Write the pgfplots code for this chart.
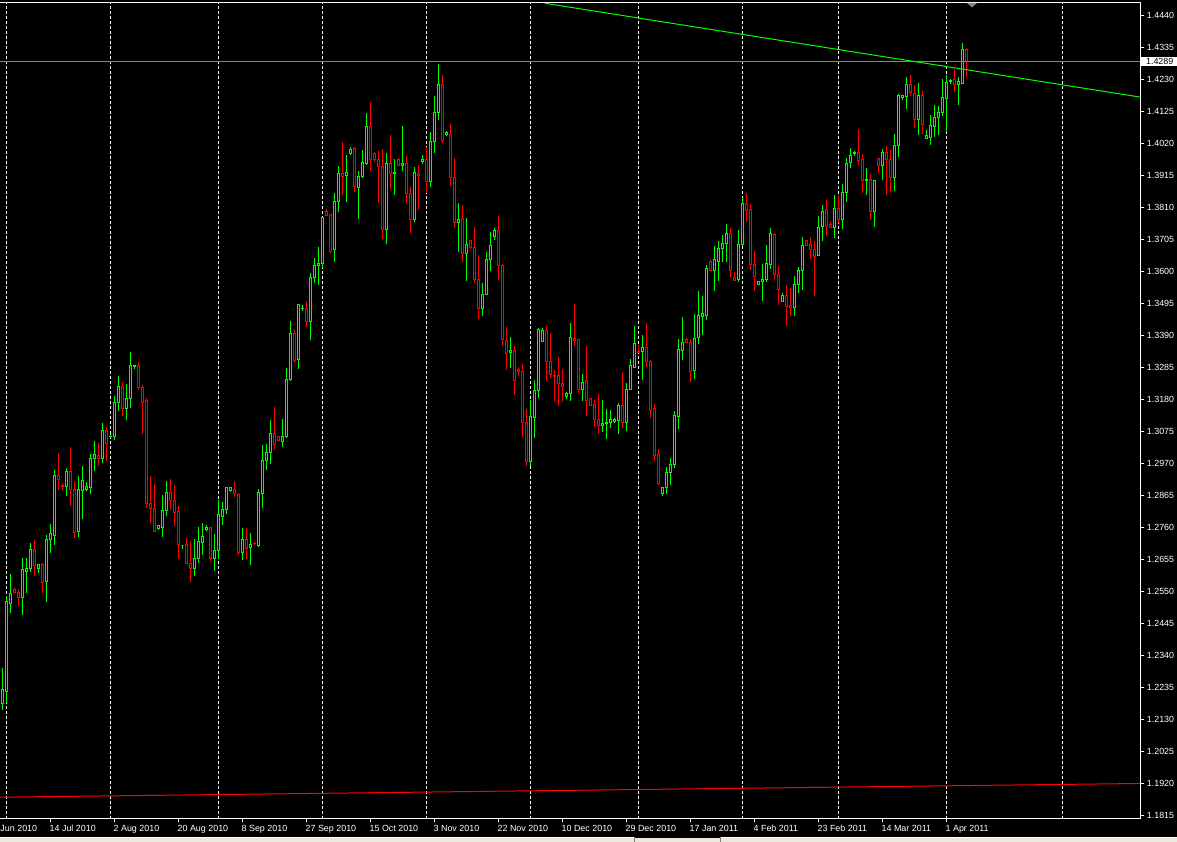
\documentclass[border=0pt]{standalone}
\usepackage{fontspec}
\setmainfont{Liberation Sans}
\usepackage{pgfplots}
\usepackage{pgfplotstable}
\pgfplotsset{compat=1.18}
\definecolor{bull}{HTML}{00FF00}
\definecolor{bear}{HTML}{FF0000}
\definecolor{bidline}{HTML}{778899}
\definecolor{tabbar}{HTML}{ECE9D8}

% daily EUR/USD candles, k = bar index (4 px per bar)
\pgfplotstableread{
k o h l c
0 1.2185 1.2300 1.2162 1.2228
1 1.2224 1.2536 1.2185 1.2517
2 1.2513 1.2608 1.2480 1.2546
3 1.2559 1.2562 1.2546 1.2549
4 1.2549 1.2559 1.2503 1.2530
5 1.2530 1.2661 1.2474 1.2622
6 1.2618 1.2661 1.2546 1.2628
7 1.2628 1.2710 1.2615 1.2690
8 1.2690 1.2720 1.2602 1.2635
9 1.2628 1.2638 1.2612 1.2638
10 1.2638 1.2645 1.2546 1.2582
11 1.2585 1.2736 1.2517 1.2723
12 1.2723 1.2773 1.2677 1.2740
13 1.2736 1.2950 1.2704 1.2930
14 1.2930 1.3005 1.2884 1.2920
15 1.2900 1.2907 1.2884 1.2894
16 1.2897 1.2956 1.2864 1.2946
17 1.2946 1.3025 1.2832 1.2887
18 1.2887 1.2910 1.2726 1.2746
19 1.2749 1.2930 1.2730 1.2887
20 1.2881 1.2963 1.2789 1.2914
21 1.2887 1.2910 1.2881 1.2894
22 1.2891 1.3002 1.2871 1.2986
23 1.2986 1.3045 1.2946 1.2999
24 1.2996 1.3038 1.2963 1.2986
25 1.2986 1.3104 1.2973 1.3078
26 1.3078 1.3091 1.2979 1.3038
27 1.3058 1.3068 1.3055 1.3061
28 1.3058 1.3192 1.3048 1.3170
29 1.3170 1.3258 1.3143 1.3222
30 1.3225 1.3238 1.3127 1.3153
31 1.3153 1.3232 1.3114 1.3183
32 1.3183 1.3337 1.3153 1.3291
33 1.3288 1.3295 1.3281 1.3291
34 1.3291 1.3305 1.3212 1.3220
35 1.3221 1.3229 1.3068 1.3170
36 1.3176 1.3185 1.2826 1.2840
37 1.2840 1.2930 1.2777 1.2824
38 1.2824 1.2904 1.2747 1.2747
39 1.2757 1.2768 1.2753 1.2766
40 1.2760 1.2868 1.2731 1.2818
41 1.2816 1.2915 1.2799 1.2877
42 1.2877 1.2920 1.2818 1.2849
43 1.2851 1.2900 1.2767 1.2811
44 1.2814 1.2832 1.2658 1.2706
45 1.2701 1.2701 1.2690 1.2701
46 1.2704 1.2726 1.2644 1.2644
47 1.2644 1.2717 1.2583 1.2626
48 1.2626 1.2722 1.2603 1.2660
49 1.2660 1.2763 1.2645 1.2714
50 1.2711 1.2777 1.2671 1.2730
51 1.2753 1.2768 1.2749 1.2762
52 1.2762 1.2764 1.2651 1.2659
53 1.2658 1.2739 1.2619 1.2687
54 1.2685 1.2851 1.2658 1.2802
55 1.2796 1.2844 1.2769 1.2821
56 1.2821 1.2894 1.2805 1.2891
57 1.2881 1.2894 1.2878 1.2891
58 1.2886 1.2914 1.2862 1.2872
59 1.2870 1.2874 1.2671 1.2680
60 1.2680 1.2759 1.2654 1.2720
61 1.2720 1.2760 1.2658 1.2691
62 1.2696 1.2742 1.2638 1.2706
63 1.2710 1.2714 1.2704 1.2707
64 1.2703 1.2887 1.2698 1.2877
65 1.2874 1.3032 1.2826 1.2981
66 1.2982 1.3035 1.2950 1.3008
67 1.3006 1.3114 1.2969 1.3070
68 1.3070 1.3155 1.3015 1.3034
69 1.3059 1.3062 1.3046 1.3046
70 1.3043 1.3116 1.3024 1.3061
71 1.3059 1.3285 1.3054 1.3247
72 1.3245 1.3440 1.3243 1.3398
73 1.3398 1.3412 1.3302 1.3308
74 1.3313 1.3493 1.3281 1.3491
75 1.3480 1.3491 1.3472 1.3481
76 1.3480 1.3504 1.3420 1.3436
77 1.3436 1.3597 1.3376 1.3582
78 1.3582 1.3646 1.3562 1.3619
79 1.3620 1.3682 1.3557 1.3627
80 1.3626 1.3781 1.3613 1.3777
81 1.3799 1.3805 1.3783 1.3784
82 1.3789 1.3790 1.3661 1.3668
83 1.3672 1.3860 1.3631 1.3832
84 1.3830 1.3948 1.3797 1.3924
85 1.3924 1.4027 1.3852 1.3912
86 1.3915 1.3983 1.3830 1.3927
87 1.3989 1.4010 1.3983 1.4002
88 1.4003 1.4008 1.3863 1.3879
89 1.3877 1.3931 1.3773 1.3913
90 1.3912 1.4000 1.3909 1.3959
91 1.3954 1.4122 1.3950 1.4078
92 1.4078 1.4158 1.3931 1.3970
93 1.3987 1.3994 1.3961 1.3970
94 1.3970 1.3996 1.3827 1.3945
95 1.3947 1.4002 1.3708 1.3739
96 1.3739 1.3989 1.3691 1.3956
97 1.3956 1.4049 1.3871 1.3923
98 1.3923 1.3970 1.3852 1.3927
99 1.3969 1.3972 1.3947 1.3948
100 1.3948 1.4079 1.3931 1.3954
101 1.3954 1.3980 1.3825 1.3858
102 1.3858 1.3879 1.3728 1.3772
103 1.3772 1.3945 1.3764 1.3926
104 1.3923 1.3950 1.3803 1.3915
105 1.3961 1.3983 1.3954 1.3970
106 1.3970 1.4008 1.3860 1.3896
107 1.3896 1.4060 1.3879 1.4029
108 1.4027 1.4177 1.3989 1.4123
109 1.4123 1.4282 1.4098 1.4213
110 1.4213 1.4246 1.4022 1.4030
111 1.4052 1.4062 1.4047 1.4056
112 1.4052 1.4085 1.3882 1.3910
113 1.3910 1.3974 1.3745 1.3762
114 1.3761 1.3825 1.3666 1.3773
115 1.3776 1.3819 1.3633 1.3661
116 1.3661 1.3777 1.3571 1.3691
117 1.3703 1.3703 1.3675 1.3679
118 1.3680 1.3746 1.3562 1.3575
119 1.3575 1.3655 1.3444 1.3480
120 1.3480 1.3564 1.3456 1.3527
121 1.3527 1.3665 1.3526 1.3641
122 1.3641 1.3731 1.3604 1.3685
123 1.3715 1.3745 1.3704 1.3737
124 1.3734 1.3784 1.3573 1.3621
125 1.3621 1.3626 1.3357 1.3379
126 1.3376 1.3420 1.3278 1.3333
127 1.3335 1.3387 1.3283 1.3343
128 1.3343 1.3357 1.3196 1.3243
129 1.3278 1.3289 1.3259 1.3272
130 1.3274 1.3298 1.3059 1.3105
131 1.3105 1.3149 1.2963 1.2977
132 1.2977 1.3179 1.2964 1.3125
133 1.3121 1.3245 1.3056 1.3212
134 1.3210 1.3417 1.3187 1.3409
135 1.3371 1.3417 1.3369 1.3406
136 1.3406 1.3422 1.3242 1.3305
137 1.3307 1.3400 1.3251 1.3264
138 1.3261 1.3278 1.3176 1.3258
139 1.3261 1.3321 1.3160 1.3234
140 1.3235 1.3281 1.3174 1.3223
141 1.3190 1.3206 1.3183 1.3202
142 1.3201 1.3433 1.3176 1.3385
143 1.3382 1.3494 1.3358 1.3373
144 1.3379 1.3379 1.3203 1.3215
145 1.3215 1.3265 1.3176 1.3237
146 1.3242 1.3357 1.3127 1.3179
147 1.3183 1.3183 1.3160 1.3160
148 1.3166 1.3179 1.3092 1.3114
149 1.3116 1.3199 1.3068 1.3094
150 1.3095 1.3179 1.3075 1.3101
151 1.3102 1.3150 1.3051 1.3107
152 1.3107 1.3147 1.3088 1.3114
153 1.3108 1.3119 1.3105 1.3114
154 1.3111 1.3169 1.3068 1.3160
155 1.3160 1.3272 1.3088 1.3105
156 1.3105 1.3234 1.3079 1.3214
157 1.3215 1.3313 1.3212 1.3291
158 1.3285 1.3422 1.3283 1.3365
159 1.3340 1.3360 1.3333 1.3336
160 1.3340 1.3393 1.3245 1.3350
161 1.3350 1.3433 1.3287 1.3307
162 1.3307 1.3311 1.3121 1.3144
163 1.3150 1.3166 1.2979 1.2997
164 1.3002 1.3018 1.2900 1.2906
165 1.2874 1.2895 1.2864 1.2891
166 1.2893 1.2958 1.2871 1.2942
167 1.2942 1.2988 1.2900 1.2969
168 1.2969 1.3144 1.2957 1.3127
169 1.3125 1.3379 1.3084 1.3346
170 1.3343 1.3451 1.3311 1.3369
171 1.3379 1.3382 1.3367 1.3369
172 1.3369 1.3379 1.3239 1.3272
173 1.3275 1.3461 1.3248 1.3382
174 1.3384 1.3537 1.3363 1.3455
175 1.3453 1.3521 1.3393 1.3462
176 1.3458 1.3622 1.3442 1.3612
177 1.3635 1.3639 1.3604 1.3604
178 1.3604 1.3685 1.3537 1.3639
179 1.3635 1.3701 1.3570 1.3677
180 1.3675 1.3721 1.3633 1.3694
181 1.3694 1.3757 1.3633 1.3726
182 1.3726 1.3743 1.3584 1.3604
183 1.3582 1.3598 1.3571 1.3573
184 1.3576 1.3737 1.3568 1.3690
185 1.3688 1.3841 1.3686 1.3823
186 1.3823 1.3858 1.3764 1.3800
187 1.3803 1.3823 1.3606 1.3625
188 1.3625 1.3668 1.3537 1.3584
189 1.3558 1.3570 1.3556 1.3567
190 1.3568 1.3626 1.3505 1.3576
191 1.3575 1.3688 1.3568 1.3628
192 1.3625 1.3743 1.3608 1.3724
193 1.3721 1.3726 1.3573 1.3592
194 1.3590 1.3619 1.3491 1.3543
195 1.3502 1.3529 1.3502 1.3523
196 1.3523 1.3556 1.3423 1.3485
197 1.3488 1.3548 1.3456 1.3482
198 1.3482 1.3586 1.3456 1.3559
199 1.3559 1.3615 1.3531 1.3603
200 1.3604 1.3715 1.3540 1.3685
201 1.3701 1.3702 1.3686 1.3686
202 1.3688 1.3713 1.3642 1.3674
203 1.3672 1.3701 1.3522 1.3650
204 1.3653 1.3783 1.3652 1.3746
205 1.3748 1.3819 1.3701 1.3799
206 1.3803 1.3836 1.3718 1.3748
207 1.3756 1.3762 1.3743 1.3745
208 1.3746 1.3852 1.3710 1.3808
209 1.3806 1.3852 1.3761 1.3772
210 1.3772 1.3888 1.3740 1.3861
211 1.3861 1.3972 1.3830 1.3956
212 1.3958 1.4007 1.3940 1.3982
213 1.3989 1.3996 1.3980 1.3991
214 1.3992 1.4069 1.3950 1.3965
215 1.3969 1.3987 1.3860 1.3899
216 1.3899 1.3940 1.3852 1.3904
217 1.3904 1.3921 1.3770 1.3797
218 1.3797 1.3901 1.3748 1.3901
219 1.3972 1.3972 1.3923 1.3950
220 1.3948 1.4003 1.3901 1.3992
221 1.3992 1.4013 1.3852 1.3969
222 1.3969 1.4000 1.3863 1.3909
223 1.3909 1.4052 1.3865 1.4015
224 1.4015 1.4182 1.3978 1.4179
225 1.4171 1.4180 1.4164 1.4179
226 1.4175 1.4238 1.4134 1.4213
227 1.4216 1.4246 1.4178 1.4188
228 1.4186 1.4213 1.4073 1.4100
229 1.4100 1.4220 1.4049 1.4180
230 1.4177 1.4194 1.4051 1.4084
231 1.4037 1.4065 1.4037 1.4046
232 1.4041 1.4115 1.4016 1.4079
233 1.4078 1.4147 1.4043 1.4107
234 1.4106 1.4144 1.4049 1.4123
235 1.4122 1.4232 1.4111 1.4171
236 1.4169 1.4246 1.4060 1.4220
237 1.4223 1.4233 1.4216 1.4226
238 1.4232 1.4265 1.4191 1.4213
239 1.4216 1.4240 1.4147 1.4224
240 1.4219 1.4352 1.4215 1.4330
241 1.4330 1.4335 1.4240 1.4289
}\candles

\newcommand\lblfont{\fontsize{8.9}{10.5}\selectfont}

\begin{document}
\begin{tikzpicture}[x=1pt,y=1pt]
\useasboundingbox (0,0) rectangle (1177,842);
\fill[black] (0,0) rectangle (1177,842);
\begin{axis}[
    at={(0pt,23pt)}, anchor=south west,
    scale only axis, width=1140.5pt, height=816.5pt,
    xmin=-0.625, xmax=284.5,
    ymin=1.180446, ymax=1.44836,
    axis lines=box,
    axis line style={draw=none},
    tick style={white, line width=1pt},
    tick align=outside,
    major tick length=3.5pt,
    xtick pos=bottom, ytick pos=right,
    yticklabel pos=right,
    xtick={12,28,...,236},
    xticklabels={14 Jul 2010, 2 Aug 2010, 20 Aug 2010, 8 Sep 2010, 27 Sep 2010,
        15 Oct 2010, 3 Nov 2010, 22 Nov 2010, 10 Dec 2010, 29 Dec 2010,
        17 Jan 2011, 4 Feb 2011, 23 Feb 2011, 14 Mar 2011, 1 Apr 2011},
    xticklabel style={font=\lblfont, text=white, anchor=base west,
        inner sep=0pt, xshift=-1pt, yshift=-9pt},
    ytick={1.1815,1.1920,1.2025,1.2130,1.2235,1.2340,1.2445,1.2550,1.2655,
        1.2760,1.2865,1.2970,1.3075,1.3180,1.3285,1.3390,1.3495,1.3600,1.3705,
        1.3810,1.3915,1.4020,1.4125,1.4230,1.4335,1.4440},
    yticklabels={1.1815,1.1920,1.2025,1.2130,1.2235,1.2340,1.2445,1.2550,1.2655,
        1.2760,1.2865,1.2970,1.3075,1.3180,1.3285,1.3390,1.3495,1.3600,1.3705,
        1.3810,1.3915,1.4020,1.4125,1.4230,1.4335,1.4440},
    yticklabel style={font=\lblfont, text=white, anchor=west,
        inner sep=0pt, xshift=2.7pt},
    scaled ticks=false,
    extra x ticks={1,27,54,80,106,132,159,185,209,236,265},
    extra x tick labels={},
    extra x tick style={grid=major, major tick length=0pt},
    major grid style={white, line width=1pt, dash pattern=on 3pt off 2pt},
    extra y ticks={1.4289},
    extra y tick labels={1.4289},
    extra y tick style={major tick length=0pt,
        yticklabel style={fill=white, text=black, inner xsep=5pt,
            inner ysep=1.5pt, xshift=-2.3pt}},
]
\pgfplotstablegetrowsof{\candles}
\pgfmathtruncatemacro{\lastrow}{\pgfplotsretval-1}
\pgfplotsforeachungrouped \i in {0,...,\lastrow}{%
    \pgfplotstablegetelem{\i}{k}\of\candles \let\ck\pgfplotsretval
    \pgfplotstablegetelem{\i}{o}\of\candles \let\co\pgfplotsretval
    \pgfplotstablegetelem{\i}{h}\of\candles \let\ch\pgfplotsretval
    \pgfplotstablegetelem{\i}{l}\of\candles \let\cl\pgfplotsretval
    \pgfplotstablegetelem{\i}{c}\of\candles \let\cc\pgfplotsretval
    \pgfmathsetmacro\xl{\ck-0.25}%
    \pgfmathsetmacro\xr{\ck+0.25}%
    \ifdim\cc pt<\co pt \def\ccol{bear}\else\def\ccol{bull}\fi
    \edef\doplot{%
        \noexpand\addplot[\ccol, line width=1pt, forget plot]
            coordinates {(\ck,\cl) (\ck,\ch)};
        \noexpand\addplot[\ccol, fill=black, line width=1pt, forget plot]
            coordinates {(\xl,\co) (\xr,\co) (\xr,\cc) (\xl,\cc)} --cycle;
    }\doplot
}
% bid line
\addplot[bidline, line width=1pt, forget plot] coordinates {(-0.625,1.4289) (284.5,1.4289)};
% trend lines
\addplot[bull, line width=1pt, forget plot] coordinates {(135.6,1.4481) (284.5,1.4173)};
\addplot[bear, line width=1pt, forget plot] coordinates {(-0.625,1.1876) (284.5,1.1921)};
\end{axis}
% chart frame (top, right, bottom)
\draw[white, line width=1pt] (0,839.5) -- (1140.5,839.5) -- (1140.5,23) -- (0,23);
% first date label, of which only the month and year show
\node[font=\lblfont, text=white, anchor=base west, inner sep=0pt] at (0.3,10.5) {Jun 2010};
% chart shift marker
\fill[bidline] (967,839) -- (977,839) -- (972,834.5) -- cycle;
% window tab strip
\fill[tabbar] (0,0) rectangle (1177,3.7);
\fill[white] (0,3.7) rectangle (634,5);
\fill[white] (720,3.7) rectangle (1177,5);
\draw[gray, line width=0.8pt] (634,0) -- (634,5) (720,0) -- (720,5);
\end{tikzpicture}
\end{document}
